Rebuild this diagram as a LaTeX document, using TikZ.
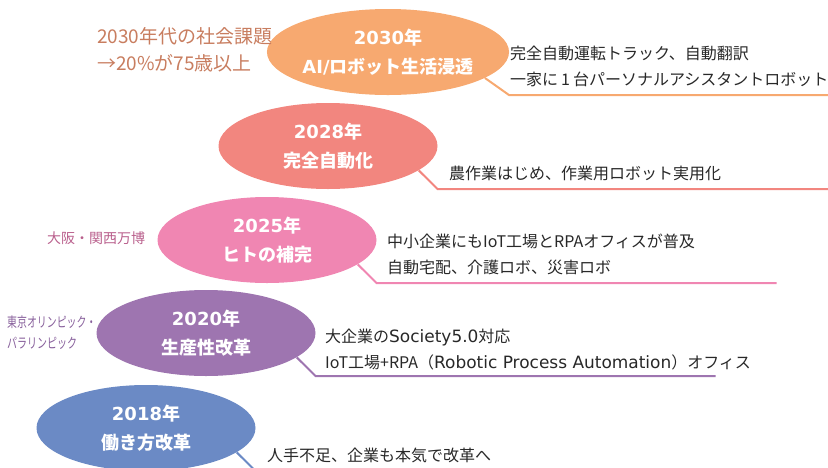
\documentclass[tikz,border=0pt]{standalone}
\usepackage{fontspec}
\setmainfont{Noto Sans CJK JP}
\newfontfamily\latf{DejaVu Sans}[Scale=1.06]
\newfontfamily\yrfont{DejaVu Sans}
\usetikzlibrary{shapes.geometric}
\definecolor{cA}{RGB}{247,169,112}
\definecolor{cB}{RGB}{242,134,127}
\definecolor{cC}{RGB}{240,134,178}
\definecolor{cD}{RGB}{158,117,176}
\definecolor{cE}{RGB}{107,138,197}
\definecolor{txt}{RGB}{40,40,40}
\definecolor{sA}{RGB}{200,125,95}
\definecolor{sC}{RGB}{185,95,140}
\definecolor{sD}{RGB}{135,95,155}
\newcommand\yr[1]{{\yrfont\bfseries #1}}
\begin{document}
\begin{tikzpicture}[x=1pt,y=-1pt,
  era/.style={ellipse, fill=#1, minimum width=219pt, minimum height=86pt, inner sep=0pt,
    text=white, font=\bfseries\fontsize{18}{29}\selectfont, align=center},
  leader/.style={draw=#1, line width=2pt},
  desc/.style={anchor=west, align=left, text=txt, inner sep=0pt,
    font=\fontsize{16}{26}\selectfont},
  side/.style={anchor=west, align=left, text=#1, inner sep=0pt}]
\path[use as bounding box] (0,0) rectangle (828,467);
\clip (0,0) rectangle (828,467);

% ellipses
\node[era=cA] (eA) at (388,52) {\yr{2030}年\\\yr{AI/}ロボット生活浸透};
\node[era=cB] (eB) at (328,146) {\yr{2028}年\\完全自動化};
\node[era=cC] (eC) at (267,240) {\yr{2025}年\\ヒトの補完};
\node[era=cD] (eD) at (206,333) {\yr{2020}年\\生産性改革};
\node[era=cE] (eE) at (146,428) {\yr{2018}年\\働き方改革};

% leader lines
\foreach \e/\c in {eA/cA,eB/cB,eC/cC,eD/cD,eE/cE}{
  \coordinate (k\e) at (\e.south -| \e.east);
  \coordinate (r\e) at ([xshift=400pt]k\e);
  \draw[leader=\c] (\e.-15) -- (k\e) -- (r\e);
}

% descriptions
\node[desc] (dA) at (510,66) {完全自動運転トラック、自動翻訳\\一家に\hspace{3pt}1\hspace{3pt}台パーソナルアシスタントロボット};
\node[desc] (dB) at (449,173) {農作業はじめ、作業用ロボット実用化};
\node[desc] (dC) at (387,254) {中小企業にもIoT工場とRPAオフィスが普及\\自動宅配、介護ロボ、災害ロボ};
\node[desc] (dD) at (325,350) {大企業の{\latf Society5.0}対応\\IoT工場+RPA（{\latf Robotic Process Automation}）オフィス};
\node[desc] (dE) at (267,455) {人手不足、企業も本気で改革へ};

% side labels
\node[side=sA, font=\fontsize{19}{27}\selectfont] (lA) at (97,50) {2030年代の社会課題\\→20\%が75歳以上};
\node[side=sC, font=\fontsize{14}{20}\selectfont] (lC) at (47,238) {大阪・関西万博};
\node[side=sD, font=\fontsize{14}{21}\selectfont] (lD) at (7,333)
  {\resizebox{89pt}{\height}{東京オリンピック・}\\\resizebox{70pt}{\height}{パラリンピック}};
\end{tikzpicture}
\end{document}
